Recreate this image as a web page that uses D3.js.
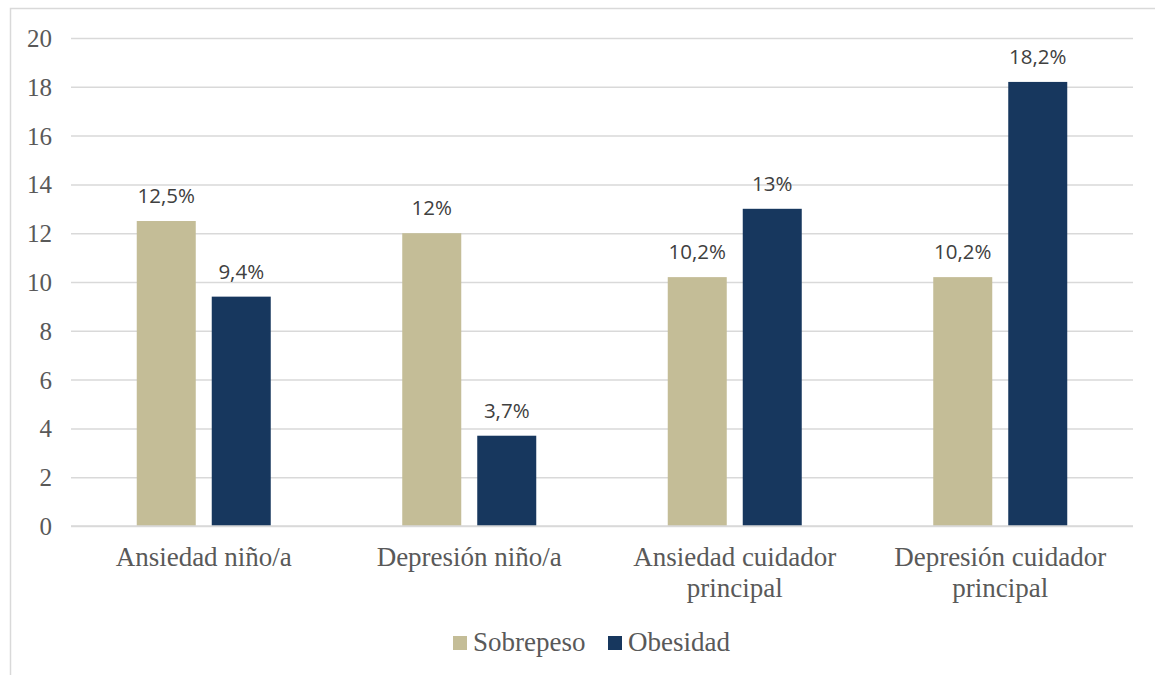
<!DOCTYPE html>
<html><head><meta charset="utf-8">
<script src="https://cdn.jsdelivr.net/npm/d3@7"></script>
<style>body{margin:0;background:#fff;}svg{display:block;}</style>
</head><body><svg id="c" width="1155" height="675"></svg>
<script>
const categories = [["Ansiedad niño/a"], ["Depresión niño/a"], ["Ansiedad cuidador", "principal"], ["Depresión cuidador", "principal"]];
const seriesNames = ["Sobrepeso", "Obesidad"];
const sobrepeso = [12.5, 12, 10.2, 10.2];
const obesidad = [9.4, 3.7, 13, 18.2];
const sobrepesoLabels = ["12,5%", "12%", "10,2%", "10,2%"];
const obesidadLabels = ["9,4%", "3,7%", "13%", "18,2%"];
const yTicks = [0, 2, 4, 6, 8, 10, 12, 14, 16, 18, 20];
const colors = ["#C4BD97", "#17375E"];

const svg = d3.select("#c");
const L = 71, R = 1133, T = 38, B = 526;

svg.append("rect").attr("x", 10.5).attr("y", 8.5).attr("width", 1200).attr("height", 800)
  .attr("fill", "none").attr("stroke", "#D9D9D9").attr("stroke-width", 1.5);

const y = d3.scaleLinear().domain([0, 20]).range([B, T]);
const x0 = d3.scaleBand().domain(d3.range(categories.length)).range([L, R]).padding(0);
const x1 = d3.scaleBand().domain(seriesNames).range([-67, 67]).paddingInner(16/75).paddingOuter(0);

// gridlines
const yAxis = d3.axisLeft(y).tickValues(yTicks).tickSize(-(R - L)).tickFormat(d3.format("d")).tickPadding(19);
const gy = svg.append("g").attr("transform", `translate(${L},0)`).call(yAxis);
gy.select(".domain").remove();
gy.selectAll(".tick line").attr("stroke", "#D9D9D9").attr("stroke-width", 1.5);
gy.selectAll(".tick text").attr("fill", "#595959").style("font-family", "'Liberation Serif', 'Times New Roman', serif")
  .style("font-size", "25px").attr("dy", "0.34em");

const data = categories.map((c, i) => ({ i, vals: [
  { s: seriesNames[0], v: sobrepeso[i], lab: sobrepesoLabels[i] },
  { s: seriesNames[1], v: obesidad[i], lab: obesidadLabels[i] } ] }));

const g = svg.append("g").selectAll("g").data(data).join("g")
  .attr("transform", d => `translate(${x0(d.i) + x0.bandwidth() / 2},0)`);
g.selectAll("rect").data(d => d.vals).join("rect")
  .attr("x", d => x1(d.s)).attr("width", x1.bandwidth())
  .attr("y", d => y(d.v)).attr("height", d => y(0) - y(d.v))
  .attr("fill", (d, j) => colors[j]);
g.selectAll("text.lab").data(d => d.vals).join("text").attr("class", "lab")
  .attr("x", d => x1(d.s) + x1.bandwidth() / 2).attr("y", d => y(d.v) - 18)
  .attr("text-anchor", "middle").attr("fill", "#404040")
  .style("font-family", "'Open Sans', sans-serif").style("font-size", "20.5px")
  .text(d => d.lab);

// baseline
svg.append("line").attr("x1", L).attr("x2", R).attr("y1", y(0)).attr("y2", y(0))
  .attr("stroke", "#D9D9D9").attr("stroke-width", 1.5);

// category labels
const ct = svg.append("g").selectAll("text").data(categories).join("text")
  .attr("x", (d, i) => x0(i) + x0.bandwidth() / 2).attr("y", 566)
  .attr("text-anchor", "middle").attr("fill", "#595959")
  .style("font-family", "'Liberation Serif', 'Times New Roman', serif").style("font-size", "27px");
ct.selectAll("tspan").data(d => d).join("tspan")
  .attr("x", function () { return this.parentNode.getAttribute("x"); })
  .attr("dy", (d, k) => k === 0 ? 0 : 31).text(d => d);

// legend
const lg = svg.append("g");
const legX = [453, 608];
seriesNames.forEach((s, j) => {
  lg.append("rect").attr("x", legX[j]).attr("y", 636).attr("width", 14).attr("height", 14).attr("fill", colors[j]);
  lg.append("text").attr("x", legX[j] + 20).attr("y", 651).attr("fill", "#595959")
    .style("font-family", "'Liberation Serif', 'Times New Roman', serif").style("font-size", "27px").text(s);
});
</script></body></html>
